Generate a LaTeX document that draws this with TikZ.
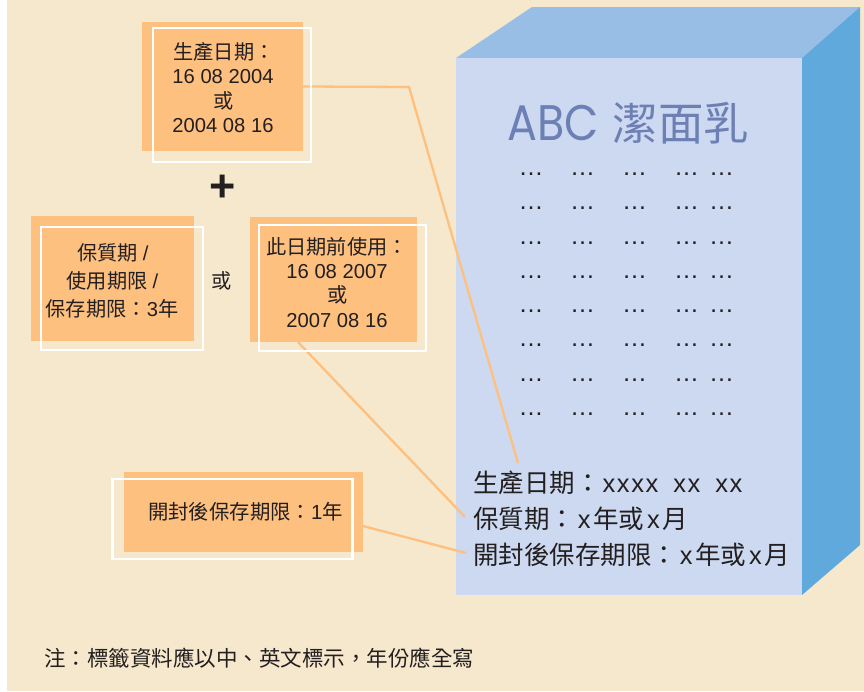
\documentclass[tikz,border=0pt]{standalone}
\usepackage{fontspec}
\setmainfont{Liberation Sans}
\newfontfamily\cjk{Noto Sans CJK TC}
\newfontfamily\titlelat{Poppins}
\newfontfamily\widelat[LetterSpace=6]{Liberation Sans}
\definecolor{bgc}{HTML}{F6E8CD}
\definecolor{orangec}{HTML}{FDC07F}
\definecolor{topc}{HTML}{99BEE5}
\definecolor{rightc}{HTML}{5FA9DC}
\definecolor{frontc}{HTML}{CCD9F0}
\definecolor{titlec}{HTML}{6D80B5}
\definecolor{inkc}{HTML}{231F20}
\newcommand{\fs}[1]{\fontsize{#1}{#1}\selectfont}
\newcommand{\xch}{\hspace{2.7pt}\widelat x\hspace{2.7pt}}
\tikzset{
  x=1pt,y=-1pt,
  obox/.style={fill=orangec,draw=none,inner sep=0pt},
  wbox/.style={draw=white,line width=2.6pt,fill=none,inner sep=0pt},
  conn/.style={draw=orangec,line width=2.3pt},
  lab/.style={anchor=base,inner sep=0pt,text=inkc,font=\fs{20.2}},
  big/.style={anchor=base west,inner sep=0pt,text=inkc,font=\fs{25.5}},
  dots/.style={anchor=base,inner sep=0pt,text=inkc,font=\fs{25}},
}
\begin{document}
\begin{tikzpicture}
\useasboundingbox (0,0) rectangle (864,691);
\fill[white] (0,0) rectangle (864,691);
\fill[bgc] (7,0) rectangle (864,691);
% carton
\fill[topc] (456,58) -- (532,7) -- (860,7) -- (802,58) -- cycle;
\fill[rightc] (802,58) -- (860,7) -- (860,545) -- (802,595) -- cycle;
\fill[frontc] (456,58) rectangle (802,595);
\node[anchor=base west,inner sep=0pt,text=titlec] (title) at (507,140) {\titlelat\fs{50}\scalebox{0.89}[1]{ABC}\hspace{14pt}\cjk\fs{45.5}潔面乳};
\foreach \r/\yy in {1/175.5,2/209.5,3/244.5,4/278.5,5/312.5,6/346.5,7/381.5,8/415.5}{
  \foreach \c/\xx in {1/531,2/582.5,3/634.5,4/686.5,5/721.5}{
    \node[dots] (d\r\c) at (\xx,\yy) {…};
  }
}
% orange boxes
\node[obox,minimum width=161pt,minimum height=129pt] (b1) at (222.5,86.5) {};
\node[obox,minimum width=163pt,minimum height=125pt] (b2) at (112.5,278.5) {};
\node[obox,minimum width=167pt,minimum height=125pt] (b3) at (333.5,279.5) {};
\node[obox,minimum width=239pt,minimum height=80pt] (b4) at (243.5,512) {};
% connectors
\coordinate (elbow) at (409,87);
\coordinate (t1) at (518,463);
\coordinate (s3) at (298,342);
\coordinate (t3) at (465,517);
\coordinate (s4) at (363,526);
\coordinate (t4) at (466,553);
\draw[conn] (b1.east) -- (elbow) -- (t1);
\draw[conn] (s3) -- (t3);
\draw[conn] (s4) -- (t4);
% white frames
\node[wbox,minimum width=158pt,minimum height=134pt] (w1) at (232,95) {};
\node[wbox,minimum width=162pt,minimum height=123pt] (w2) at (122,288.5) {};
\node[wbox,minimum width=167pt,minimum height=126pt] (w3) at (342.5,288) {};
\node[wbox,minimum width=240pt,minimum height=80pt] (w4) at (232.5,519) {};
% box 1 text
\node[lab] (a1) at (224,59) {\cjk 生產日期：};
\node[lab] (a2) at (223,83) {16 08 2004};
\node[lab] (a3) at (224,108) {\cjk 或};
\node[lab] (a4) at (223,132) {2004 08 16};
\node[anchor=center,inner sep=0pt,text=inkc,font=\fs{45}\bfseries] (plus) at (222.5,188) {+};
% box 2 text
\node[lab] (e1) at (113,260) {\cjk 保質期\hspace{5pt}\rmfamily /};
\node[lab] (e2) at (112.5,288) {\cjk 使用期限\hspace{5pt}\rmfamily /};
\node[lab] (e3) at (112,316) {\cjk 保存期限：\rmfamily 3\cjk 年};
\node[lab] (or) at (222,288) {\cjk 或};
% box 3 text
\node[lab] (f1) at (337,254) {\cjk 此日期前使用：};
\node[lab] (f2) at (337,278) {16 08 2007};
\node[lab] (f3) at (338,302) {\cjk 或};
\node[lab] (f4) at (337,327) {2007 08 16};
% box 4 text
\node[lab,font=\fs{20.4}] (g1) at (245.5,519) {\cjk 開封後保存期限：\rmfamily 1\cjk 年};
% carton text
\node[big] (h1) at (473,492) {\cjk 生產日期：\hspace{2pt}\widelat xxxx\hspace{15pt}xx\hspace{15pt}xx};
\node[big] (h2) at (473,528) {\cjk 保質期：\xch\cjk 年或\xch\cjk 月};
\node[big] (h3) at (473,564) {\cjk 開封後保存期限：\xch\cjk 年或\xch\cjk 月};
% note
\node[anchor=base west,inner sep=0pt,text=inkc,font=\fs{21.5}] (note) at (44,666) {\cjk 注：標籤資料應以中、英文標示，年份應全寫};
\end{tikzpicture}
\end{document}
